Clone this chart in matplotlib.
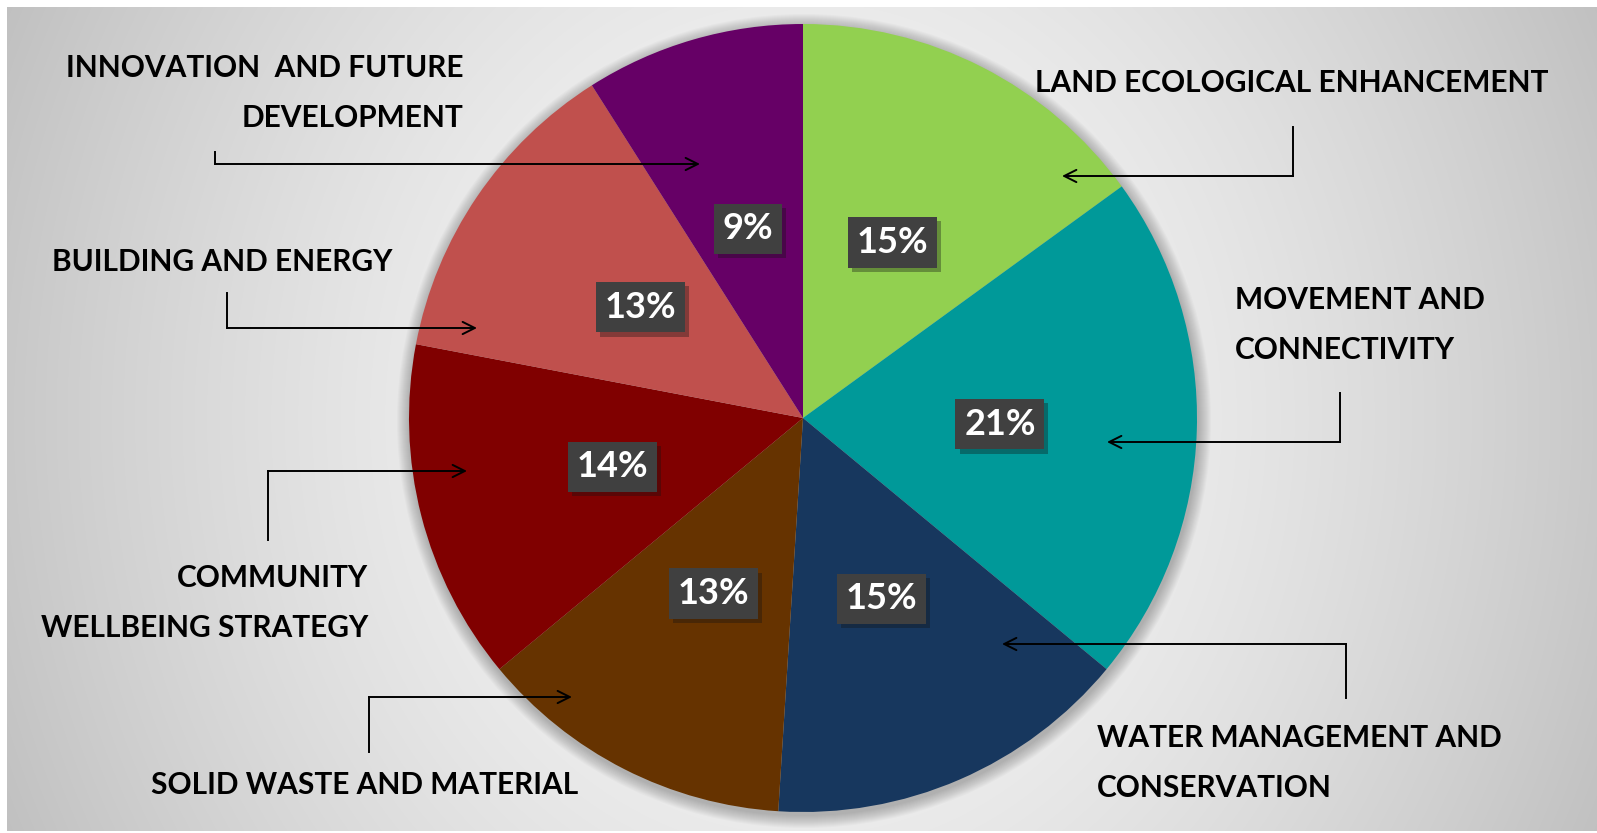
import numpy as np
import matplotlib.pyplot as plt
import matplotlib.patheffects as pe
from matplotlib.patches import Circle

plt.rcParams['font.family'] = ['Lato', 'DejaVu Sans']

W, H = 1597, 833

categories = ['LAND ECOLOGICAL ENHANCEMENT', 'MOVEMENT AND\nCONNECTIVITY',
              'WATER MANAGEMENT AND\nCONSERVATION', 'SOLID WASTE AND MATERIAL',
              'COMMUNITY\nWELLBEING STRATEGY', 'BUILDING AND ENERGY',
              'INNOVATION  AND FUTURE\nDEVELOPMENT']
shares = [15, 21, 15, 13, 14, 13, 9]
colors = ['#92D050', '#009999', '#17375E', '#663300', '#800000', '#C0504D', '#660066']

# outer label anchor: x, y of first line, alignment (pixel coords)
label_pos = [(1035, 83, 'left'), (1235, 300, 'left'), (1097, 738, 'left'),
             (151, 785, 'left'), (368, 578, 'right'), (52, 262, 'left'),
             (463, 68, 'right')]
# leader lines: start of stub, elbow, arrow tip
leaders = [((1293, 127), (1293, 176), (1062, 176)),
           ((1340, 393), (1340, 442), (1107, 442)),
           ((1346, 698), (1346, 644), (1002, 644)),
           ((369, 752), (369, 697), (572, 697)),
           ((268, 540), (268, 471), (467, 471)),
           ((227, 293), (227, 328), (477, 328)),
           ((215, 152), (215, 164), (700, 164))]

cx, cy, R = 803, 418, 394
line_gap = 50

fig = plt.figure(figsize=(W / 100, H / 100), dpi=100)
fig.patch.set_facecolor('white')
ax = fig.add_axes([0, 0, 1, 1])

# radial grey background panel
x0, x1, y0, y1 = 7, W, 7, 831
xx, yy = np.meshgrid(np.arange(x0, x1), np.arange(y0, y1))
d = np.sqrt(((xx - cx) / 800.0) ** 2 + ((yy - cy) / 900.0) ** 2)
val = np.clip(248 - 48 * d ** 1.6, 185, 250) / 255.0
bg = np.dstack([val, val, val])
ax.imshow(bg, extent=(x0, x1, y1, y0), origin='upper', zorder=0, interpolation='bilinear')

# soft shadow around the pie
for k in range(1, 14):
    ax.add_patch(Circle((cx + 1, cy + 3), R + k, fc='black', ec='none', alpha=0.018, zorder=0.5))

wedges, texts, autotexts = ax.pie(
    shares, colors=colors, startangle=-90, counterclock=True,
    center=(cx, cy), radius=R, autopct='%.0f%%', pctdistance=0.5,
    wedgeprops=dict(linewidth=0), frame=True,
    textprops=dict(color='white', fontsize=26, fontweight='bold'))

for t in autotexts:
    t.set_zorder(4)
    t.set_bbox(dict(boxstyle='square,pad=0.24', fc='#404040', ec='none'))
    t.get_bbox_patch().set_path_effects(
        [pe.SimplePatchShadow(offset=(3, -3), alpha=0.35), pe.Normal()])

for name, (lx, ly, ha) in zip(categories, label_pos):
    for i, line in enumerate(name.split('\n')):
        ax.text(lx, ly + i * line_gap, line, ha=ha, va='center', fontsize=21.5,
                fontweight='bold', color='black', zorder=5)

for (s, e, tip) in leaders:
    ax.plot([s[0], e[0]], [s[1], e[1]], color='black', lw=1.4, zorder=5)
    ax.annotate('', xy=tip, xytext=e,
                arrowprops=dict(arrowstyle='->', color='black', lw=1.4,
                                mutation_scale=22, shrinkA=0, shrinkB=0), zorder=5)

ax.set_xlim(0, W)
ax.set_ylim(H, 0)
ax.set_aspect('auto')
ax.axis('off')

fig.savefig('out.png', dpi=100, facecolor='white')
